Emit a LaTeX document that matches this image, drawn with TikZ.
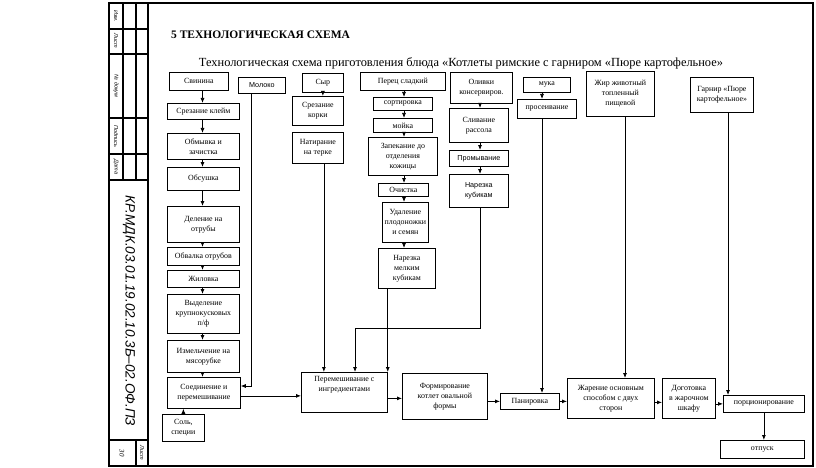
\documentclass[tikz,border=0pt]{standalone}
\usepackage{fontspec}
\setmainfont{Liberation Serif}
\newfontfamily\sansf{Liberation Sans}
\usetikzlibrary{arrows.meta}
\begin{document}
\begin{tikzpicture}[x=1pt,y=-1pt,
  box/.style={draw, line width=0.75pt, inner sep=1pt, align=center, font=\fontsize{7.9}{10}\selectfont, anchor=north west},
  sbox/.style={box, font=\sansf\fontsize{7.2}{10}\selectfont},
  arr/.style={line width=0.75pt, -{Latex[length=5pt,width=4pt]}},
  frm/.style={line width=1.3pt},
  stamp/.style={font=\sansf\itshape\fontsize{5.5}{6}\selectfont, rotate=-90, inner sep=0pt},
]
\useasboundingbox (0,0) rectangle (816,468);
\fill[white] (0,0) rectangle (816,468);

% frame
\draw[frm] (109,3) rectangle (813,466);
\draw[frm] (148,3) -- (148,466);
\draw[frm] (123,3) -- (123,180);
\draw[frm] (136,3) -- (136,180);
\foreach \yy in {29,54,118,154,180,440} \draw[frm] (109,\yy) -- (148,\yy);
\draw[frm] (136,440) -- (136,466);
\node[stamp] (s1) at (116,16) {Изм.};
\node[stamp] (s2) at (116,41) {Лист};
\node[stamp] (s3) at (116,86) {№ докум};
\node[stamp] (s4) at (116,136) {Подпись};
\node[stamp] (s5) at (116,167) {Дата};
\node[rotate=-90, inner sep=0pt, font=\sansf\itshape\fontsize{13.5}{15}\selectfont] (code) at (129,311) {КР.МДК.03.01.19.02.10.3Б–02.ОФ.ПЗ};
\node[rotate=-90, inner sep=0pt, font=\itshape\fontsize{7}{8}\selectfont] (pg) at (122,453) {30};
\node[stamp] (s6) at (142,453) {Лист};

% titles
\node[anchor=west, inner sep=0pt, font=\bfseries\fontsize{11.5}{13}\selectfont] (title) at (171,35) {5 ТЕХНОЛОГИЧЕСКАЯ СХЕМА};
\node[inner sep=0pt, font=\fontsize{12.4}{15}\selectfont] (sub) at (461,63) {Технологическая схема приготовления блюда «Котлеты римские с гарниром «Пюре картофельное»};

% column 1
\node[box, minimum width=59pt, minimum height=18pt] (svin) at (169,72) {Свинина};
\node[box, minimum width=72pt, minimum height=16pt] (srez) at (167,103) {Срезание клейм};
\node[box, minimum width=72pt, minimum height=26pt] (obmyv) at (167,133) {Обмывка и\\зачистка};
\node[box, minimum width=72pt, minimum height=23pt] (obsush) at (167,167) {Обсушка};
\node[box, minimum width=72pt, minimum height=36pt] (deleni) at (167,206) {Деление на\\отрубы};
\node[box, minimum width=72pt, minimum height=18pt] (obval) at (167,247) {Обвалка отрубов};
\node[box, minimum width=72pt, minimum height=17pt] (zhil) at (167,270) {Жиловка};
\node[box, minimum width=72pt, minimum height=39pt] (vydel) at (167,294) {Выделение\\крупнокусковых\\п/ф};
\node[box, minimum width=72pt, minimum height=32pt] (izmel) at (167,340) {Измельчение на\\мясорубке};
\node[box, minimum width=73pt, minimum height=31pt] (soed) at (167,377) {Соединение и\\перемешивание};
\node[box, minimum width=42pt, minimum height=27pt] (sol) at (162,414) {Соль,\\специи};

\node[sbox, minimum width=47pt, minimum height=16pt] (moloko) at (238,77) {Молоко};

% cheese
\node[box, minimum width=41pt, minimum height=19pt] (syr) at (302,73) {Сыр};
\node[box, minimum width=51pt, minimum height=29pt] (srezk) at (292,96) {Срезание\\корки};
\node[box, minimum width=51pt, minimum height=31pt] (natir) at (292,132) {Натирание\\на терке};

% pepper
\node[box, minimum width=85pt, minimum height=18pt] (perec) at (360,72) {Перец сладкий};
\node[box, minimum width=59pt, minimum height=13pt] (sort) at (373,97) {сортировка};
\node[box, minimum width=59pt, minimum height=14pt] (moika) at (373,118) {мойка};
\node[box, minimum width=69pt, minimum height=38pt] (zapek) at (368,137) {Запекание до\\отделения\\кожицы};
\node[box, minimum width=50pt, minimum height=13pt] (ochist) at (378,183) {Очистка};
\node[box, minimum width=46pt, minimum height=40pt] (udal) at (382,202) {Удаление\\плодоножки\\и семян};
\node[box, minimum width=57pt, minimum height=40pt] (narez1) at (378,248) {Нарезка\\мелким\\кубикам};

% olives
\node[box, minimum width=62pt, minimum height=31pt] (olivki) at (450,72) {Оливки\\консервиров.};
\node[box, minimum width=59pt, minimum height=34pt] (sliv) at (449,108) {Сливание\\рассола};
\node[sbox, minimum width=59pt, minimum height=16pt] (prom) at (449,150) {Промывание};
\node[sbox, minimum width=59pt, minimum height=33pt] (narez2) at (449,174) {Нарезка\\кубикам};

% flour, fat, garnish
\node[box, minimum width=47pt, minimum height=15pt] (muka) at (523,77) {мука};
\node[box, minimum width=59pt, minimum height=19pt] (pros) at (517,99) {просеивание};
\node[box, minimum width=68pt, minimum height=45pt] (zhir) at (586,71) {Жир животный\\топленный\\пищевой};
\node[box, minimum width=63pt, minimum height=35pt] (garnir) at (690,77) {Гарнир «Пюре\\картофельное»};

% bottom row
\node[box, minimum width=86pt, minimum height=40pt] (perem) at (301,372) {Перемешивание с\\ингредиентами\\[7pt]};
\node[box, minimum width=85pt, minimum height=46pt] (form) at (402,373) {Формирование\\котлет овальной\\формы};
\node[box, minimum width=59pt, minimum height=16pt] (panir) at (500,393) {Панировка};
\node[box, minimum width=87pt, minimum height=40pt] (zhar) at (567,378) {Жарение основным\\способом с двух\\сторон};
\node[box, minimum width=53pt, minimum height=40pt] (dogot) at (662,378) {Доготовка\\в жарочном\\шкафу};
\node[box, minimum width=81pt, minimum height=17pt] (porc) at (723,395) {порционирование};
\node[box, minimum width=84pt, minimum height=18pt] (otpusk) at (720,440) {отпуск};

% connectors
\coordinate (cx1) at (202.5,0);
\foreach \a/\b in {svin/srez, srez/obmyv, obmyv/obsush, obsush/deleni, deleni/obval, obval/zhil, zhil/vydel, vydel/izmel, izmel/soed}
  \draw[arr] (cx1 |- \a.south) -- (cx1 |- \b.north);
\draw[arr] (sol.north) -- (sol.north |- soed.south);
\coordinate (mk) at (251,386);
\draw[arr] (moloko.south -| mk) -- (mk) -- (mk -| soed.east);
\draw[arr] ([yshift=-3pt]soed.east) -- ([yshift=-3pt]soed.east -| perem.west);

\draw[arr] (syr.south) -- (syr.south |- srezk.north);
\draw[arr] ([xshift=6pt]natir.south) -- ([xshift=6pt]natir.south |- perem.north);

\coordinate (px) at (404,0);
\foreach \a/\b in {perec/sort, sort/moika, moika/zapek, zapek/ochist, ochist/udal, udal/narez1}
  \draw[arr] (px |- \a.south) -- (px |- \b.north);
\draw[arr] (narez1.south -| perem.north east) -- (perem.north east);

\coordinate (ox) at (480,0);
\foreach \a/\b in {olivki/sliv, sliv/prom, prom/narez2}
  \draw[arr] (ox |- \a.south) -- (ox |- \b.north);
\coordinate (ol) at (355,328);
\draw[arr] (ox |- narez2.south) |- (ol) -- (ol |- perem.north);

\coordinate (mx) at (542,0);
\draw[arr] (mx |- muka.south) -- (mx |- pros.north);
\draw[arr] (mx |- pros.south) -- (mx |- panir.north);

\draw[arr] ([yshift=-6pt]perem.east) -- ([yshift=-6pt]perem.east -| form.west);
\draw[arr] (panir.west -| form.east) -- (panir.west);
\draw[arr] (panir.east) -- (panir.east -| zhar.west);
\coordinate (zx) at (625,0);
\draw[arr] (zx |- zhir.south) -- (zx |- zhar.north);
\draw[arr] ([yshift=-4pt]zhar.east) -- ([yshift=-4pt]zhar.east -| dogot.west);
\draw[arr] (porc.west -| dogot.east) -- (porc.west);
\coordinate (gx) at (728,0);
\draw[arr] (gx |- garnir.south) -- (gx |- porc.north);
\draw[arr] (porc.south) -- (porc.south |- otpusk.north);
\end{tikzpicture}
\end{document}
